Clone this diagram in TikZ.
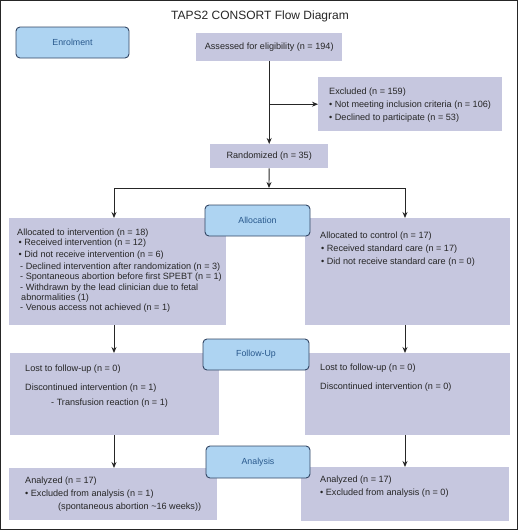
\documentclass[tikz,border=0pt]{standalone}
\usepackage{fontspec}
\setmainfont{Liberation Sans}
\usetikzlibrary{arrows.meta}
\definecolor{boxfill}{RGB}{198,199,223}
\definecolor{stagefill}{RGB}{174,212,242}
\definecolor{stageline}{RGB}{50,70,100}
\definecolor{stagetext}{RGB}{40,88,140}
\definecolor{inkgray}{RGB}{38,38,38}

\begin{document}
\begin{tikzpicture}[x=1pt,y=-1pt,>={Stealth[length=6pt,width=5pt]},
    databox/.style={fill=boxfill,inner sep=0pt,anchor=north west,text=inkgray,font=\fontsize{9.1}{11}\selectfont},
    stagebox/.style={fill=stagefill,draw=stageline,line width=0.9pt,rounded corners=4pt,inner sep=0pt,text=stagetext,font=\fontsize{8.8}{10}\selectfont},
    txt/.style={anchor=north west,inner sep=0pt,align=left,text=inkgray},
    flow/.style={->,draw=inkgray,line width=0.9pt}]
        \useasboundingbox (0,0) rectangle (520,531);
        \draw[inkgray,line width=1.2pt] (0.6,0.6) rectangle (517.4,529.4);
        \node[anchor=base,text=inkgray,font=\fontsize{12}{14}\selectfont] (T) at (260,19.5) {TAPS2 CONSORT Flow Diagram};

        \node[databox,minimum width=146pt,minimum height=28pt] (assess) at (196,33) {Assessed for eligibility (n = 194)};
        \node[databox,minimum width=184pt,minimum height=54pt] (excl) at (318,77) {};
        \node[databox,minimum width=118pt,minimum height=24pt] (rand) at (210,144) {Randomized (n = 35)};
        \node[databox,minimum width=217pt,minimum height=107pt] (allocL) at (9,218) {};
        \node[databox,minimum width=205pt,minimum height=107pt] (allocR) at (305,218) {};
        \node[databox,minimum width=209pt,minimum height=82pt] (fupL) at (10,353) {};
        \node[databox,minimum width=205pt,minimum height=82pt] (fupR) at (305,353) {};
        \node[databox,minimum width=208pt,minimum height=52pt] (anaL) at (9,468) {};
        \node[databox,minimum width=208pt,minimum height=54pt] (anaR) at (301,467) {};

        \node[txt,font=\fontsize{9.1}{13.3}\selectfont] (exclT) at (329,87.3) {Excluded (n = 159)\\
            • Not meeting inclusion criteria (n = 106)\\
            • Declined to participate (n = 53)};
        \node[txt,font=\fontsize{9.1}{10.3}\selectfont] (allocLT) at (17,228.3) {Allocated to intervention (n = 18)\\
            \hspace*{1.5pt}• Received intervention (n = 12)\\[2pt]
            \hspace*{1.5pt}• Did not receive intervention (n = 6)\\[1.7pt]
            \hspace*{3pt}- Declined intervention after randomization (n = 3)\\
            \hspace*{3pt}- Spontaneous abortion before first SPEBT (n = 1)\\
            \hspace*{3pt}- Withdrawn by the lead clinician due to fetal\\
            \hspace*{4pt}abnormalities (1)\\
            \hspace*{3pt}- Venous access not achieved (n = 1)};
        \node[txt,font=\fontsize{9.1}{13}\selectfont] (allocRT) at (320,231.6) {Allocated to control (n = 17)\\
            \hspace*{1pt}• Received standard care (n = 17)\\
            \hspace*{1pt}• Did not receive standard care (n = 0)};
        \node[txt,font=\fontsize{9.1}{14.4}\selectfont] (fupLT) at (25,364.9) {Lost to follow-up (n = 0)\\[4.6pt]
            Discontinued intervention (n = 1)\\
            \hspace*{26pt}- Transfusion reaction (n = 1)};
        \node[txt,font=\fontsize{9.1}{19}\selectfont] (fupRT) at (320,363.3) {Lost to follow-up (n = 0)\\
            Discontinued intervention (n = 0)};
        \node[txt,font=\fontsize{9.1}{12.8}\selectfont] (anaLT) at (25,476.6) {Analyzed (n = 17)\\
            • Excluded from analysis (n = 1)\\
            \hspace*{33pt}(spontaneous abortion \textasciitilde16 weeks))};
        \node[txt,font=\fontsize{9.1}{12.7}\selectfont] (anaRT) at (320,475.6) {Analyzed (n = 17)\\
            • Excluded from analysis (n = 0)};

        \coordinate (split) at (269,188);
        \coordinate (splitL) at (114,188);
        \coordinate (splitR) at (405,188);
        \draw[flow] (assess) -- (rand);
        \draw[flow] (excl.west -| assess.south) -- (excl);
        \draw[flow] (rand) -- (split);
        \draw[inkgray,line width=0.9pt] (splitL) -- (splitR);
        \draw[flow] (splitL) -- (splitL |- allocL.north);
        \draw[flow] (splitR) -- (splitR |- allocR.north);
        \draw[flow] (allocL.south -| splitL) -- (splitL |- fupL.north);
        \draw[flow] (allocR.south -| splitR) -- (splitR |- fupR.north);
        \draw[flow] (fupL.south -| splitL) -- (splitL |- anaL.north);
        \draw[flow] (fupR.south -| splitR) -- (splitR |- anaR.north);

        \node[stagebox,minimum width=113pt,minimum height=31pt] (enrol) at (72.5,42.5) {Enrolment};
        \node[stagebox,minimum width=105pt,minimum height=31pt] (alloc) at (257.5,220.5) {Allocation};
        \node[stagebox,minimum width=106pt,minimum height=31pt] (fup) at (256,354.5) {Follow-Up};
        \node[stagebox,minimum width=104pt,minimum height=32pt] (ana) at (258,462) {Analysis};
    \end{tikzpicture}
\end{document}
